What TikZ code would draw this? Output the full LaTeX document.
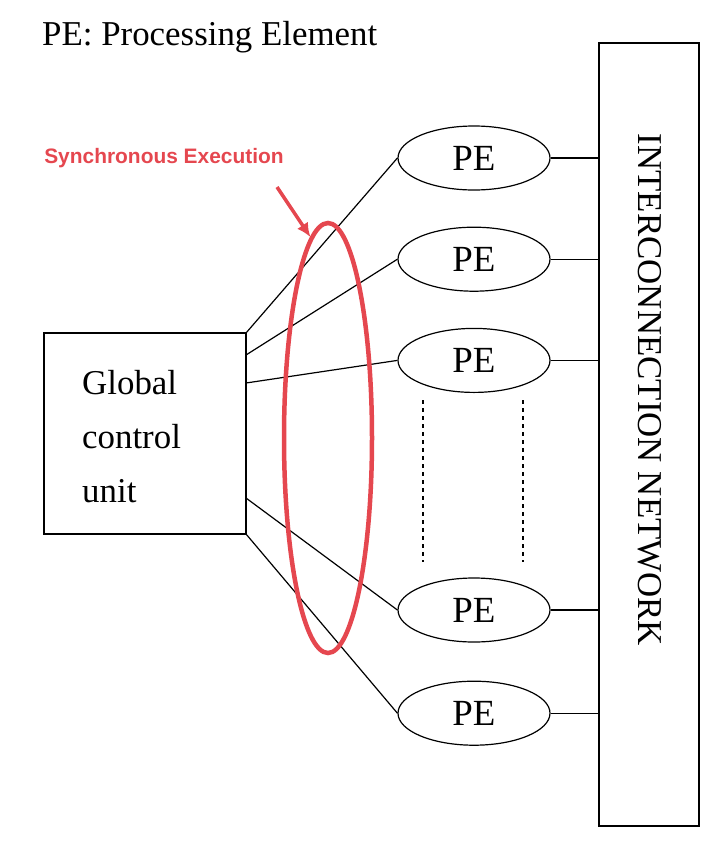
\documentclass[tikz,border=0pt]{standalone}
\usepackage{fontspec}
\setmainfont{Liberation Serif}
\newfontfamily\notefont{Liberation Sans}
\usetikzlibrary{positioning,shapes.geometric,arrows.meta}
\definecolor{notered}{HTML}{E5474F}

\tikzset{
  pe/.style={ellipse, draw, line width=1.2bp, minimum width=152bp, minimum height=64bp, inner sep=0pt, font=\fontsize{37}{37}\selectfont},
  link/.style={line width=1.2bp},
}

\begin{document}
\begin{tikzpicture}[x=1bp, y=-1bp, font=\fontsize{35}{54}\selectfont]

  \useasboundingbox (0,0) rectangle (720,854);

  \node (title) [anchor=base west, inner sep=0pt] at (42,45) {PE: Processing Element};

  % control unit and network
  \node (gcu) [draw, line width=1.2bp, minimum width=202bp, minimum height=201bp] at (145,433.5) {};
  \node (gcutext) [anchor=base west, align=left, inner sep=0pt] at (82,502) {Global\\control\\unit};
  \node (net) [draw, line width=1.2bp, minimum width=100bp, minimum height=783bp] at (649,434.5) {};
  \node (nettext) [rotate=-90, inner sep=0pt] at (650,390) {INTERCONNECTION NETWORK};

  % processing elements
  \node (pe1) [pe] at (474,158) {PE};
  \node (pe2) [pe, below=36bp of pe1] {PE};
  \node (pe3) [pe, below=36bp of pe2] {PE};
  \node (pe4) [pe] at (474,610) {PE};
  \node (pe5) [pe, below=38bp of pe4] {PE};

  \coordinate (g1) at (246,333);
  \coordinate (g2) at (246,355);
  \coordinate (g3) at (246,383);
  \coordinate (g4) at (246,498);
  \coordinate (g5) at (246,534);

  \draw[link] (g1) -- (pe1.west);
  \draw[link] (g2) -- (pe2.west);
  \draw[link] (g3) -- (pe3.west);
  \draw[link] (g4) -- (pe4.west);
  \draw[link] (g5) -- (pe5.west);

  \foreach \p in {pe1,pe2,pe3,pe4,pe5}
    \draw[link] (\p.east) -- (\p.east -| net.west);

  \draw[line width=1.2bp, dash pattern=on 4bp off 4bp] ([xshift=-51bp, yshift=-40bp]pe3.center) -- ([xshift=-51bp, yshift=48bp]pe4.center);
  \draw[line width=1.2bp, dash pattern=on 4bp off 4bp] ([xshift=49bp, yshift=-40bp]pe3.center) -- ([xshift=49bp, yshift=48bp]pe4.center);

  % annotation
  \node (sync) [ellipse, draw=notered, line width=4.5bp, minimum width=88bp, minimum height=430bp, inner sep=0pt] at (328,438) {};
  \node (synclabel) [font=\notefont\bfseries\fontsize{21}{21}\selectfont, text=notered, inner sep=0pt] at (164,158) {Synchronous Execution};
  \coordinate (synctail) at (277,187);
  \draw[notered, line width=3.5bp, -{Latex[length=14bp, width=13bp]}] (synctail) -- (sync.95);

\end{tikzpicture}
\end{document}
